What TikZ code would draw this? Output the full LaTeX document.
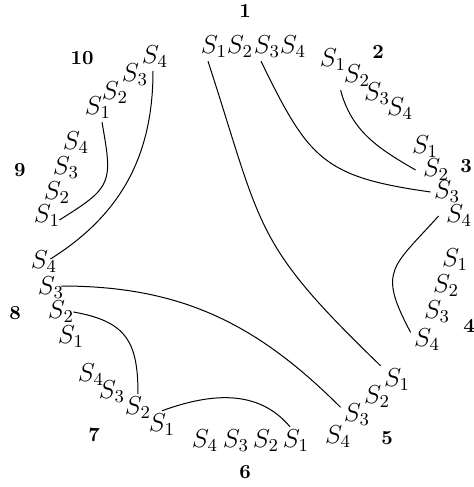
\RequirePackage{fix-cm}
\documentclass[tikz,border=0pt]{standalone}
\begin{document}
\tikzset{
  lab/.style={inner sep=1.5pt, font=\fontsize{13}{15}\selectfont},
  num/.style={inner sep=0pt, font=\fontsize{10}{12}\selectfont\bfseries},
  link/.style={line width=0.5pt}
}
\begin{tikzpicture}[x=0.5pt,y=-0.5pt]
\useasboundingbox (0,0) rectangle (474,487);
% group 1
\node[lab] (n1s1) at (214,47) {$S_1$};
\node[lab] (n1s2) at (240,47) {$S_2$};
\node[lab] (n1s3) at (267,47) {$S_3$};
\node[lab] (n1s4) at (293,47) {$S_4$};
\node[num] (m1) at (245,11) {1};
% group 2
\node[lab] (n2s1) at (333,60) {$S_1$};
\node[lab] (n2s2) at (357,76) {$S_2$};
\node[lab] (n2s3) at (377,94) {$S_3$};
\node[lab] (n2s4) at (400,109) {$S_4$};
\node[num] (m2) at (378,52) {2};
% group 3
\node[lab] (n3s1) at (425,147) {$S_1$};
\node[lab] (n3s2) at (436,170) {$S_2$};
\node[lab] (n3s3) at (447,192) {$S_3$};
\node[lab] (n3s4) at (459,216) {$S_4$};
\node[num] (m3) at (466,166) {3};
% group 4
\node[lab] (n4s1) at (455,260) {$S_1$};
\node[lab] (n4s2) at (446,286) {$S_2$};
\node[lab] (n4s3) at (437,312) {$S_3$};
\node[lab] (n4s4) at (427,340) {$S_4$};
\node[num] (m4) at (469,326) {4};
% group 5
\node[lab] (n5s1) at (397,380) {$S_1$};
\node[lab] (n5s2) at (377,397) {$S_2$};
\node[lab] (n5s3) at (357,415) {$S_3$};
\node[lab] (n5s4) at (338,437) {$S_4$};
\node[num] (m5) at (387,438) {5};
% group 6
\node[lab] (n6s1) at (296,441) {$S_1$};
\node[lab] (n6s2) at (266,441) {$S_2$};
\node[lab] (n6s3) at (236,441) {$S_3$};
\node[lab] (n6s4) at (205,441) {$S_4$};
\node[num] (m6) at (245,472) {6};
% group 7
\node[lab] (n7s1) at (162,425) {$S_1$};
\node[lab] (n7s2) at (138,408) {$S_2$};
\node[lab] (n7s3) at (112,392) {$S_3$};
\node[lab] (n7s4) at (91,375) {$S_4$};
\node[num] (m7) at (94,435) {7};
% group 8
\node[lab] (n8s1) at (71,337) {$S_1$};
\node[lab] (n8s2) at (61,312) {$S_2$};
\node[lab] (n8s3) at (51,288) {$S_3$};
\node[lab] (n8s4) at (44,262) {$S_4$};
\node[num] (m8) at (15,313) {8};
% group 9
\node[lab] (n9s1) at (47,216) {$S_1$};
\node[lab] (n9s2) at (57,193) {$S_2$};
\node[lab] (n9s3) at (66,168) {$S_3$};
\node[lab] (n9s4) at (76,143) {$S_4$};
\node[num] (m9) at (20,170) {9};
% group 10
\node[lab] (n10s1) at (98,108) {$S_1$};
\node[lab] (n10s2) at (115,93) {$S_2$};
\node[lab] (n10s3) at (135,75) {$S_3$};
\node[lab] (n10s4) at (155,57) {$S_4$};
\node[num] (m10) at (82,58) {10};
% connectors
\draw[link] ([xshift=-3pt]n1s1.south) to[out=-72,in=136,looseness=1.3] (n5s1.north west);
\draw[link] ([xshift=-3pt]n1s3.south) to[out=-64,in=172,looseness=1.3] (n3s3.west);
\draw[link] (n2s2.south west) to[out=-75,in=150] ([xshift=-2pt]n3s2.west);
\draw[link] ([xshift=-2pt]n3s4.west) to[out=228,in=118,looseness=1.5] (n4s4.155);
\draw[link] (n5s3.155) to[out=135,in=0] ([shift={(-3pt,1pt)}]n8s3.east);
\draw[link] ([xshift=-3pt]n6s1.north) to[out=130,in=20] (n7s1.north);
\draw[link] (n7s2.north) to[out=90,in=-10,looseness=1.3] ([xshift=-2pt]n8s2.east);
\draw[link] ([shift={(-5pt,1.5pt)}]n8s4.east) to[out=32,in=-90] ([xshift=-1pt]n10s4.south);
\draw[link] ([shift={(-2pt,-2pt)}]n9s1.east) to[out=32,in=-80,looseness=1.5] ([xshift=2pt]n10s1.south);
\end{tikzpicture}
\end{document}
